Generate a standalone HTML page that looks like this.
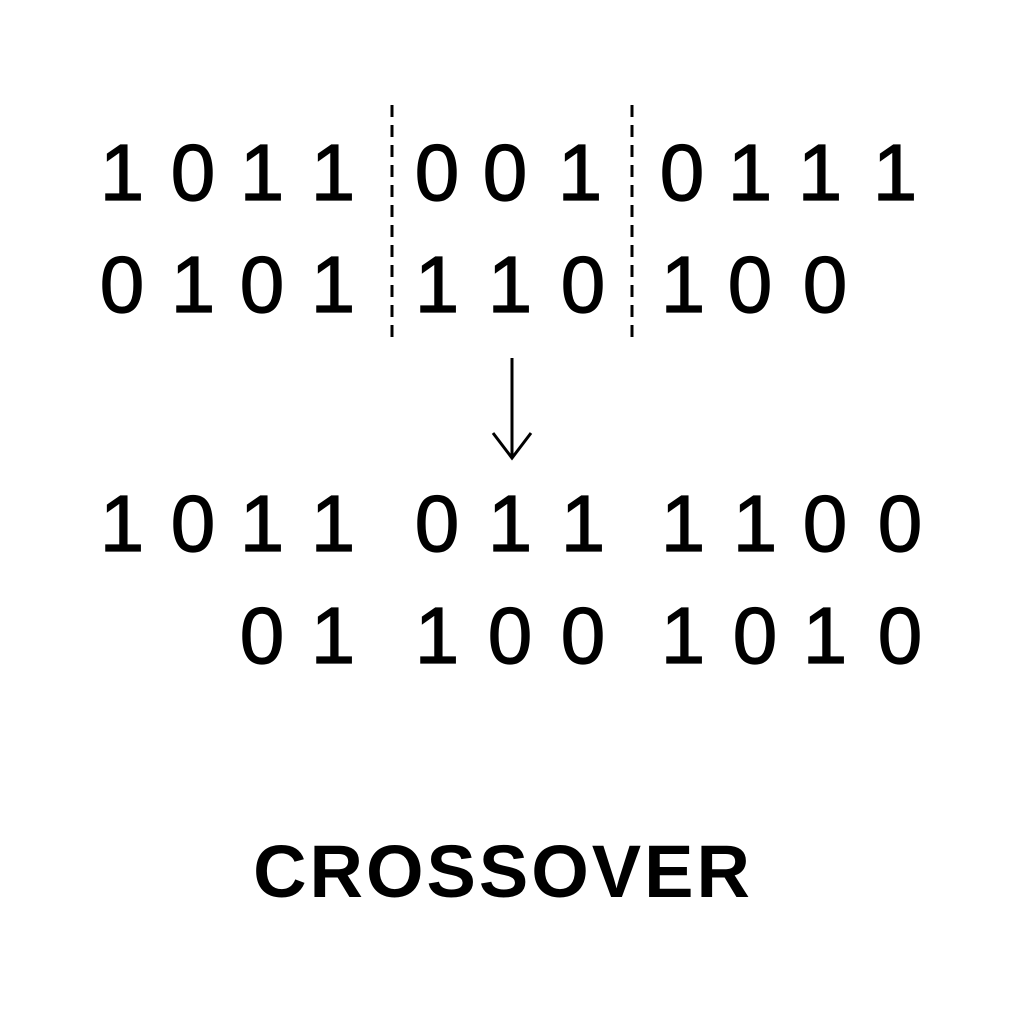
<!DOCTYPE html>
<html>
<head>
<meta charset="utf-8">
<style>
  html,body{margin:0;padding:0;background:#fff;}
  svg{display:block;}
  text{font-family:"Liberation Sans","DejaVu Sans",sans-serif;fill:#000;}
</style>
</head>
<body>
<svg width="1024" height="1024" viewBox="0 0 1024 1024">
  <g id="rows"></g>
  <line x1="392" y1="105" x2="392" y2="345" stroke="#000" stroke-width="3" stroke-dasharray="12,8"/>
  <line x1="632" y1="105" x2="632" y2="345" stroke="#000" stroke-width="3" stroke-dasharray="12,8"/>
  <g>
    <line x1="512" y1="358" x2="512" y2="458" stroke="#000" stroke-width="3"/>
    <polyline points="493,433 512,458 531,433" fill="none" stroke="#000" stroke-width="3"/>
  </g>
  <text x="503" y="897" text-anchor="middle" font-size="74" font-weight="bold" letter-spacing="3">CROSSOVER</text>
</svg>
<script>
const rowDefs = [
  {y:200, groups:[[122,193,262,333],[437,505,580],[682,750,820,895]], bits:["1011","001","0111"]},
  {y:312, groups:[[122,193,262,333],[437,510,583],[683,750,825]], bits:["0101","110","100"]},
  {y:551, groups:[[122,193,262,333],[437,510,583],[683,755,825,900]], bits:["1011","011","1100"]},
  {y:663, groups:[[262,333],[437,510,583],[683,755,825,900]], bits:["01","100","1010"]}
];
const g = document.getElementById('rows');
const NS = "http://www.w3.org/2000/svg";
rowDefs.forEach((r) => {
  r.groups.forEach((xs, gi) => {
    xs.forEach((x, i) => {
      const t = document.createElementNS(NS, 'text');
      t.setAttribute('x', x);
      t.setAttribute('y', r.y);
      t.setAttribute('text-anchor', 'middle');
      t.setAttribute('font-size', '80');
      t.setAttribute('stroke', '#000');
      t.setAttribute('stroke-width', '1.2');
      t.textContent = r.bits[gi][i];
      
      
      g.appendChild(t);
    });
  });
});
</script>
</body>
</html>
